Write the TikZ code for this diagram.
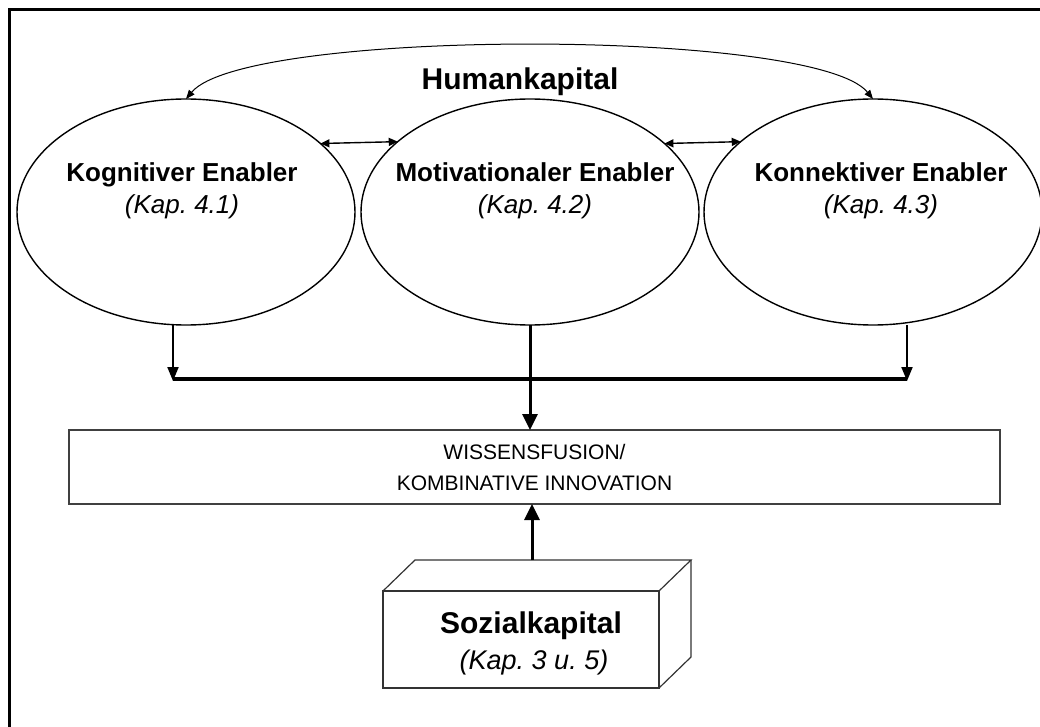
\documentclass[tikz,border=0pt]{standalone}
\usepackage{fontspec}
\setmainfont{Liberation Sans}
\usetikzlibrary{arrows.meta,shapes.geometric}
\frenchspacing
\begin{document}
\frenchspacing
\begin{tikzpicture}[x=1pt,y=-1pt,
  enabler/.style={ellipse,draw,line width=1.4pt,minimum width=338pt,minimum height=226pt,inner sep=0pt,outer sep=0pt},
  elabel/.style={align=center,font=\fontsize{26}{32}\selectfont,inner sep=0pt,anchor=base},
  twoway/.style={line width=1.4pt,{Triangle[length=9pt,width=8pt]}-{Triangle[length=9pt,width=8pt]}},
  feed/.style={line width=2pt,-{Triangle[length=14pt,width=11pt]}},
  mainflow/.style={line width=3pt,-{Triangle[length=16pt,width=15pt]}},
  edge3d/.style={draw=black!80,line width=1.2pt},
]
\useasboundingbox (0,0) rectangle (1040,727);

% outer frame (top and left border)
\draw[line width=3pt] (1040,9.5) -- (9.5,9.5) -- (9.5,727);

% the three enablers of human capital
\node[enabler] (kog) at (186,212) {};
\node[enabler] (mot) at (530,212) {};
\node[enabler] (kon) at (873,212) {};

% base anchor of a two-line label sits on the second line
\node[elabel] (kogt) at (182,214) {\textbf{Kognitiver Enabler}\\\textit{(Kap. 4.1)}};
\node[elabel] (mott) at (535,214) {\textbf{Motivationaler Enabler}\\\textit{(Kap. 4.2)}};
\node[elabel] (kont) at (881,214) {\textbf{Konnektiver Enabler}\\\textit{(Kap. 4.3)}};

\node[font=\bfseries\fontsize{30}{36}\selectfont,anchor=base,inner sep=0pt] (hk) at (520,90) {Humankapital};

% interactions between the enablers
\draw[line width=1pt,{Triangle[length=9pt,width=7pt]}-{Triangle[length=9pt,width=7pt]}]
  (kog.north) .. controls (245,28) and (815,28) .. (kon.north);
\draw[twoway] (kog.27.2) -- (mot.152.8);
\draw[twoway] (mot.27.2) -- (kon.152.8);

% collecting bar
\coordinate (jl) at (173,379);
\coordinate (jr) at (907,379);
\draw[line width=4pt] (jl) -- (jr);
\draw[feed] (kog.south -| jl) -- ([yshift=-2pt]jl);
\draw[feed] (kon.south -| jr) -- ([yshift=-2pt]jr);

% knowledge fusion
\node[draw=black!75,line width=1.2pt,minimum width=931pt,minimum height=74pt,inner sep=0pt,outer sep=0pt,
      align=center,font=\fontsize{21}{31}\selectfont] (box) at (534.5,467) {WISSENSFUSION/\\KOMBINATIVE INNOVATION};
\draw[mainflow] (mot.south) -- (mot.south |- box.north);

% social capital block
\node[edge3d,minimum width=276pt,minimum height=97pt,inner sep=0pt,outer sep=0pt] (soz) at (521,639.5) {};
\draw[edge3d] (soz.north west) -- ++(32,-31) -- ++(276,0) -- (soz.north east);
\draw[edge3d] (soz.north east) ++(32,-31) -- ++(0,97) -- (soz.south east);
\node[font=\bfseries\fontsize{30}{36}\selectfont,anchor=base,inner sep=0pt] (sozt) at (531,633) {Sozialkapital};
\node[font=\itshape\fontsize{27}{32}\selectfont,anchor=base,inner sep=0pt] (sozk) at (534,669) {(Kap. 3 u. 5)};

\coordinate (up) at (532,560);
\draw[mainflow] (up) -- (up |- box.south);
\end{tikzpicture}
\end{document}
